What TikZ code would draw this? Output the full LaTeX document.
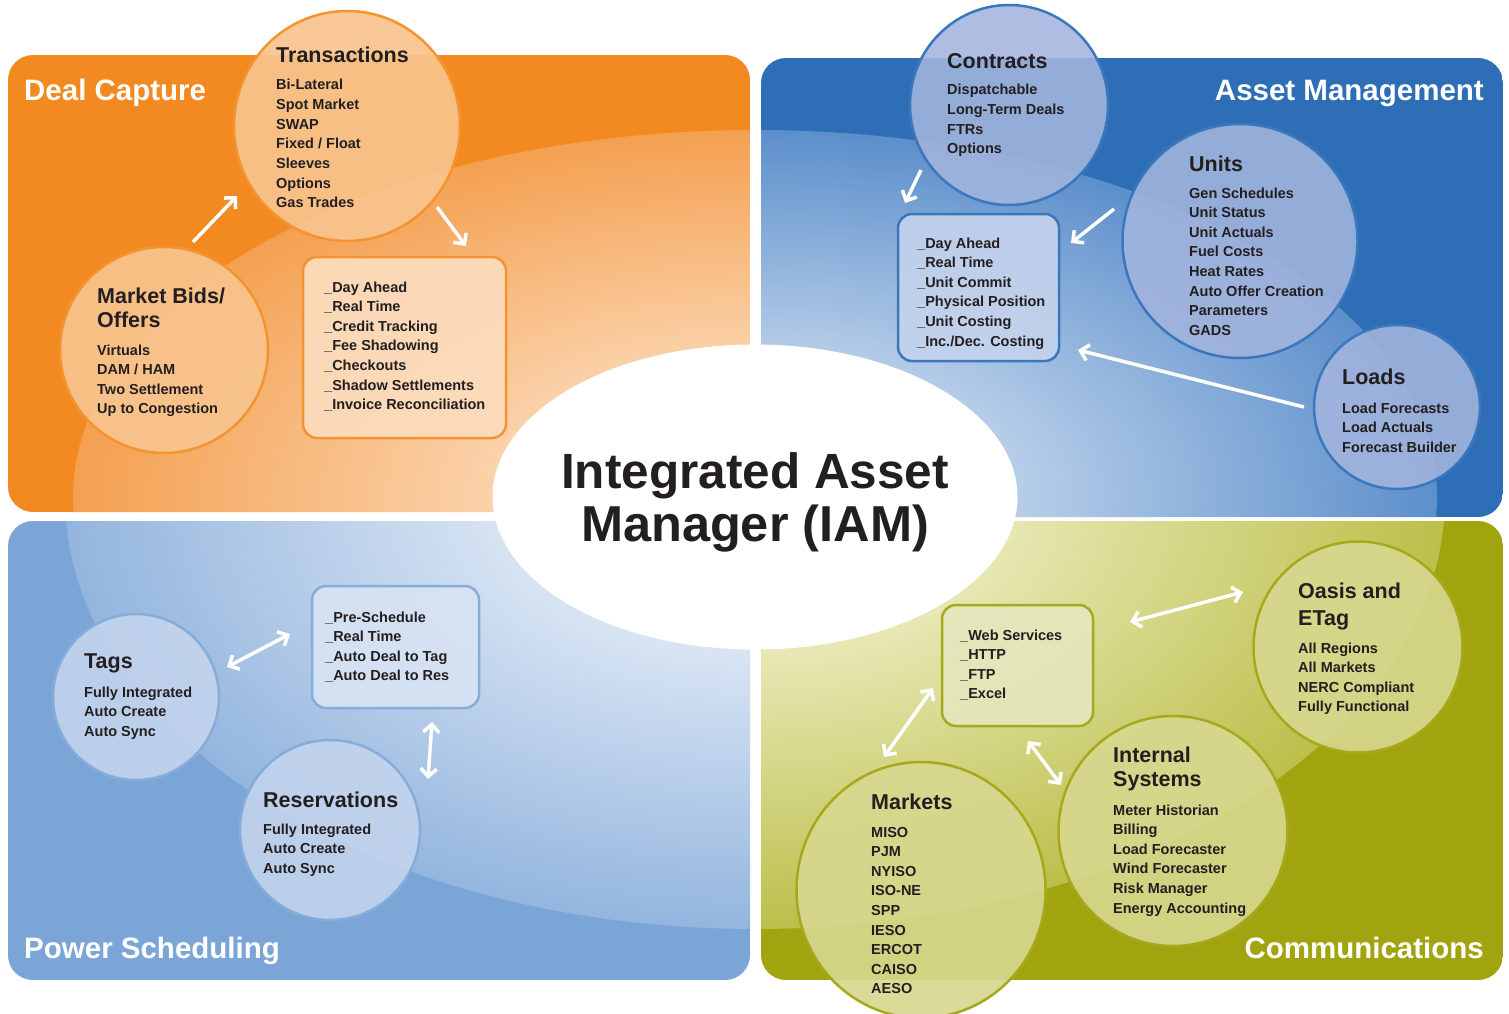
\documentclass[tikz,border=0pt]{standalone}
\usepackage{fontspec}
\setmainfont{Liberation Sans}
\usetikzlibrary{shapes.geometric,arrows.meta}
\definecolor{txt}{HTML}{231F20}
\definecolor{orDark}{HTML}{F28A21}\definecolor{orEdge}{HTML}{F4A050}\definecolor{orIn}{HTML}{FFF1E2}
\definecolor{orCirc}{HTML}{F9C48E}\definecolor{orLine}{HTML}{F39431}\definecolor{orBox}{HTML}{FCDCBD}
\definecolor{amDark}{HTML}{2E6EB7}\definecolor{amEdge}{HTML}{5C8FCB}\definecolor{amIn}{HTML}{F0F5FB}
\definecolor{amCirc}{HTML}{A3B5DD}\definecolor{amLine}{HTML}{3A77BD}\definecolor{amBox}{HTML}{C4D2EC}
\definecolor{psDark}{HTML}{7AA5D6}\definecolor{psEdge}{HTML}{93B5DE}\definecolor{psIn}{HTML}{FFFFFF}
\definecolor{psCirc}{HTML}{C2D3EC}\definecolor{psLine}{HTML}{86ACDA}\definecolor{psBox}{HTML}{D7E3F3}
\definecolor{cmDark}{HTML}{A1A40F}\definecolor{cmEdge}{HTML}{BCBF4A}\definecolor{cmIn}{HTML}{FFFFF0}
\definecolor{cmCirc}{HTML}{D7D88F}\definecolor{cmLine}{HTML}{A6A91B}\definecolor{cmBox}{HTML}{E5E6BC}
\newcommand\itemlist[4]{\foreach \t [count=\i from 0] in {#4}{\node[itm] (#1\i) at (#2,{#3+19.6*\i}) {\t};}}
\begin{document}
\begin{tikzpicture}[x=1pt,y=-1pt,
  ttl/.style={font=\fontsize{21.5}{24}\selectfont\bfseries, text=txt, inner sep=0, anchor=base west},
  itm/.style={font=\fontsize{14.5}{19.6}\selectfont\bfseries, text=txt, inner sep=0, anchor=base west},
  panelttl/.style={font=\fontsize{29.5}{32}\selectfont\bfseries, text=white, inner sep=0},
  blob/.style={ellipse, draw, line width=2.5pt, inner sep=0},
  tbox/.style={rectangle, rounded corners=14pt, draw, line width=2.5pt, inner sep=0},
  arr/.style={draw=white, line width=3.5pt, -{Straight Barb[length=8pt,width=16pt]}},
  darr/.style={draw=white, line width=3.5pt, {Straight Barb[length=8pt,width=16pt]}-{Straight Barb[length=8pt,width=16pt]}}]
\useasboundingbox[fill=white] (0,0) rectangle (1509,1014);
% ---------- panels ----------
\begin{scope}
 \clip[rounded corners=25pt] (8,55) rectangle (750,512);
 \fill[orDark] (8,55) rectangle (750,512);
 \shade[inner color=orIn, outer color=orEdge] (755,497) ellipse [x radius=682pt, y radius=367pt];
\end{scope}
\begin{scope}
 \clip[rounded corners=25pt] (761,58) rectangle (1503,517);
 \fill[amDark] (761,58) rectangle (1503,517);
 \shade[inner color=amIn, outer color=amEdge] (755,497) ellipse [x radius=682pt, y radius=367pt];
\end{scope}
\begin{scope}
 \clip[rounded corners=25pt] (8,521) rectangle (750,980);
 \fill[psDark] (8,521) rectangle (750,980);
 \shade[inner color=psIn, outer color=psEdge] (755,497) ellipse [x radius=690pt, y radius=432pt];
\end{scope}
\begin{scope}
 \clip[rounded corners=25pt] (761,521) rectangle (1503,980);
 \fill[cmDark] (761,521) rectangle (1503,980);
 \shade[inner color=cmIn, outer color=cmEdge] (755,497) ellipse [x radius=690pt, y radius=432pt];
\end{scope}
\node[panelttl, anchor=base west] (dcT) at (24,101) {Deal Capture};
\node[panelttl, anchor=base east] (amT) at (1484,101) {Asset Management};
\node[panelttl, anchor=base west] (psT) at (24,958) {Power Scheduling};
\node[panelttl, anchor=base east] (cmT) at (1484,958) {Communications};
% ---------- centre ----------
\node[ellipse, fill=white, minimum width=525pt, minimum height=305pt, inner sep=0] (iam) at (755,497) {};
\node[font=\fontsize{49.5}{53}\selectfont\bfseries, text=txt, inner sep=0, anchor=base] (iam1) at (755,488) {Integrated Asset};
\node[font=\fontsize{50.5}{53}\selectfont\bfseries, text=txt, inner sep=0, anchor=base] (iam2) at (755,541) {Manager (IAM)};
% ---------- Deal Capture ----------
\node[blob, draw=orLine, fill=orCirc, fill opacity=0.92, minimum width=226pt, minimum height=230pt] (trans) at (347,126) {};
\node[ttl] (transT) at (276,63) {Transactions};
\itemlist{tr}{276}{90}{Bi-Lateral,Spot Market,SWAP,Fixed / Float,Sleeves,Options,Gas Trades}
\node[blob, draw=orLine, fill=orCirc, fill opacity=0.92, minimum width=208pt, minimum height=206pt] (mbo) at (164,350) {};
\node[ttl] (mboT1) at (97,303) {Market Bids/};
\node[ttl] (mboT2) at (97,327) {Offers};
\itemlist{mb}{97}{355}{Virtuals,DAM / HAM,Two Settlement,Up to Congestion}
\node[tbox, draw=orLine, fill=orBox, fill opacity=0.92, minimum width=203pt, minimum height=181pt] (dcbox) at (404.5,347.5) {};
\itemlist{db}{324}{292}{\_Day Ahead,\_Real Time,\_Credit Tracking,\_Fee Shadowing,\_Checkouts,\_Shadow Settlements,\_Invoice Reconciliation}
\coordinate (a1s) at (193,242); \coordinate (a1e) at (237,196);
\coordinate (a2s) at (437,207); \coordinate (a2e) at (466,246);
\draw[arr] (a1s) -- (a1e);
\draw[arr] (a2s) -- (a2e);
% ---------- Asset Management ----------
\node[blob, draw=amLine, fill=amCirc, fill opacity=0.88, minimum width=198pt, minimum height=200pt] (contr) at (1009,105) {};
\node[ttl] (contrT) at (947,69) {Contracts};
\itemlist{co}{947}{95}{Dispatchable,Long-Term Deals,FTRs,Options}
\node[blob, draw=amLine, fill=amCirc, fill opacity=0.88, minimum width=235pt, minimum height=234pt] (units) at (1240,241) {};
\node[ttl] (unitsT) at (1189,171) {Units};
\itemlist{un}{1189}{198}{Gen Schedules,Unit Status,Unit Actuals,Fuel Costs,Heat Rates,Auto Offer Creation,Parameters,GADS}
\node[blob, draw=amLine, fill=amCirc, fill opacity=0.88, minimum width=166pt, minimum height=164pt] (loads) at (1397,407) {};
\node[ttl] (loadsT) at (1342,384) {Loads};
\itemlist{lo}{1342}{413}{Load Forecasts,Load Actuals,Forecast Builder}
\node[tbox, draw=amLine, fill=amBox, fill opacity=0.92, minimum width=161pt, minimum height=147pt] (ambox) at (978.5,287.5) {};
\itemlist{ab}{917}{248}{\_Day Ahead,\_Real Time,\_Unit Commit,\_Physical Position,\_Unit Costing,\_Inc./Dec. Costing}
\coordinate (b1s) at (921,170); \coordinate (b1e) at (905,203);
\coordinate (b2s) at (1114,209); \coordinate (b2e) at (1071,243);
\coordinate (b3s) at (1304,407); \coordinate (b3e) at (1078,350);
\draw[arr] (b1s) -- (b1e);
\draw[arr] (b2s) -- (b2e);
\draw[arr] (b3s) -- (b3e);
% ---------- Power Scheduling ----------
\node[blob, draw=psLine, fill=psCirc, fill opacity=0.92, minimum width=166pt, minimum height=166pt] (tags) at (136,697) {};
\node[ttl] (tagsT) at (84,668) {Tags};
\itemlist{tg}{84}{697}{Fully Integrated,Auto Create,Auto Sync}
\node[blob, draw=psLine, fill=psCirc, fill opacity=0.92, minimum width=180pt, minimum height=180pt] (res) at (330,830) {};
\node[ttl] (resT) at (263,807) {Reservations};
\itemlist{rs}{263}{834}{Fully Integrated,Auto Create,Auto Sync}
\node[tbox, draw=psLine, fill=psBox, fill opacity=0.92, minimum width=167pt, minimum height=122pt] (psbox) at (395.5,647) {};
\itemlist{pb}{325}{622}{\_Pre-Schedule,\_Real Time,\_Auto Deal to Tag,\_Auto Deal to Res}
\coordinate (c1s) at (227,667); \coordinate (c1e) at (290,634);
\coordinate (c2s) at (432,722); \coordinate (c2e) at (428,779);
\draw[darr] (c1s) -- (c1e);
\draw[darr] (c2s) -- (c2e);
% ---------- Communications ----------
\node[blob, draw=cmLine, fill=cmCirc, fill opacity=0.9, minimum width=209pt, minimum height=211pt] (oasis) at (1358,647) {};
\node[ttl] (oasisT1) at (1298,598) {Oasis and};
\node[ttl] (oasisT2) at (1298,625) {ETag};
\itemlist{oa}{1298}{653}{All Regions,All Markets,NERC Compliant,Fully Functional}
\node[blob, draw=cmLine, fill=cmCirc, fill opacity=0.9, minimum width=229pt, minimum height=230pt] (intsys) at (1173,831) {};
\node[ttl] (intT1) at (1113,762) {Internal};
\node[ttl] (intT2) at (1113,786) {Systems};
\itemlist{is}{1113}{815}{Meter Historian,Billing,Load Forecaster,Wind Forecaster,Risk Manager,Energy Accounting}
\node[blob, draw=cmLine, fill=cmCirc, fill opacity=0.9, minimum width=249pt, minimum height=256pt] (mkts) at (921,890) {};
\node[ttl] (mktsT) at (871,809) {Markets};
\itemlist{mk}{871}{837}{MISO,PJM,NYISO,ISO-NE,SPP,IESO,ERCOT,CAISO,AESO}
\node[tbox, draw=cmLine, fill=cmBox, fill opacity=0.92, minimum width=151pt, minimum height=121pt] (cmbox) at (1017.5,665.5) {};
\itemlist{cb}{960}{640}{\_Web Services,\_HTTP,\_FTP,\_Excel}
\coordinate (d1s) at (1130,622); \coordinate (d1e) at (1243,592);
\coordinate (d2s) at (933,688); \coordinate (d2e) at (884,757);
\coordinate (d3s) at (1028,741); \coordinate (d3e) at (1061,785);
\draw[darr] (d1s) -- (d1e);
\draw[darr] (d2s) -- (d2e);
\draw[darr] (d3s) -- (d3e);
\end{tikzpicture}
\end{document}
